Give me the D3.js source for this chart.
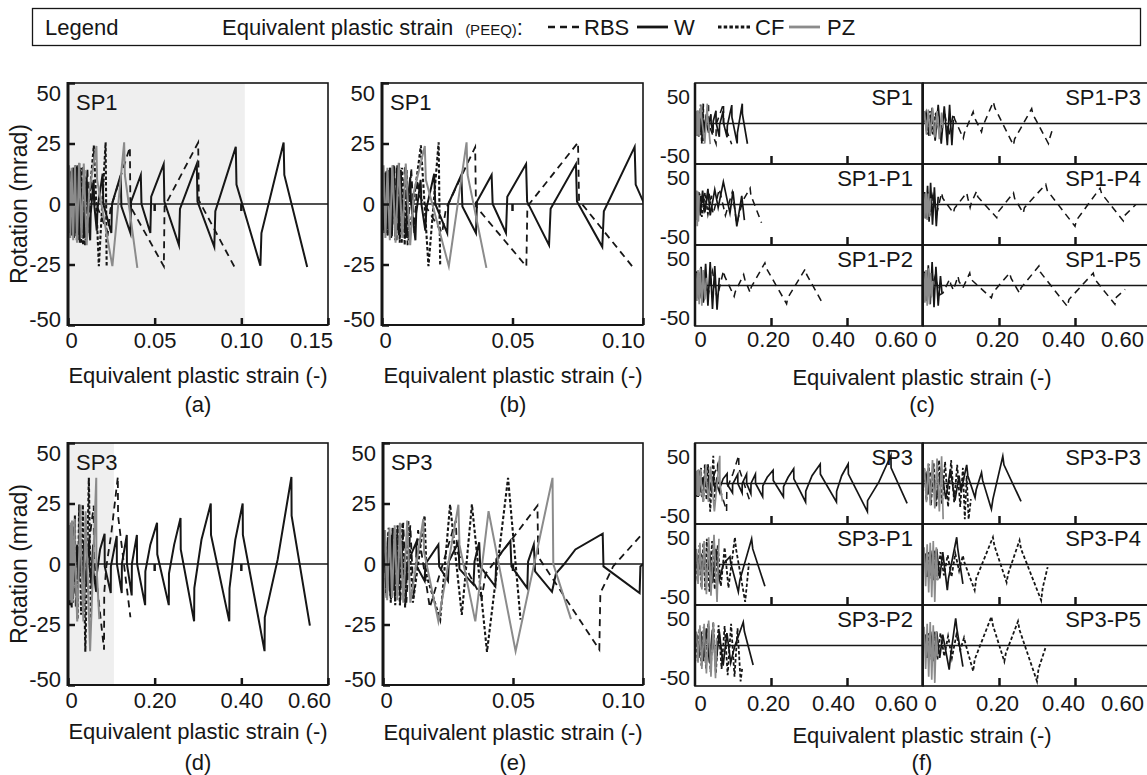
<!DOCTYPE html>
<html><head><meta charset="utf-8">
<script src="https://cdn.jsdelivr.net/npm/d3@7"></script>
<style>
body{margin:0;background:#fff}
svg{display:block;font-family:"Liberation Sans",Arial,sans-serif}
</style></head><body>
<svg id="fig" width="1147" height="775"></svg>
<script>
// ---------- data: [equivalent plastic strain, rotation (mrad)] ----------
// SP1
const sp1_W = [[0,0],[0.0004,12],[0.0008,-11],[0.0012,13],[0.0017,-12],[0.0022,14],[0.0027,-12],[0.0032,15],[0.0038,-12],[0.0044,16],[0.005,-12],[0.0057,15],[0.0064,-13],[0.0072,14],[0.0075,3],[0.0092,-14],[0.0095,-3],[0.0108,11],[0.0111,1],[0.0128,-15],[0.0131,-4],[0.0148,10],[0.0151,0],[0.0166,-11],[0.017,-2],[0.02,12.5],[0.0204,0],[0.025,-12],[0.0254,0],[0.0304,12],[0.0308,-1],[0.036,-12],[0.0364,1],[0.042,12],[0.0424,0],[0.0475,-12],[0.048,3],[0.0552,16.5],[0.0556,1],[0.064,-17],[0.0646,-2],[0.0743,16.5],[0.0747,1],[0.0844,-17.7],[0.085,-3],[0.0968,23.6],[0.0972,8],[0.111,-25.5],[0.1116,-12],[0.1244,25.4],[0.1248,12],[0.138,-26]];
const sp1_RBS = [[0,0],[0.0005,13],[0.001,-12],[0.0016,14],[0.0022,-13],[0.003,15],[0.0038,-14],[0.0047,16],[0.0056,-15],[0.0066,17],[0.0076,-16],[0.0088,16],[0.0098,-17],[0.0112,15],[0.0124,-12],[0.0135,10],[0.0145,3],[0.023,-12],[0.0245,-2],[0.0357,23.5],[0.036,-1],[0.0553,-25.8],[0.0557,-1],[0.0751,25.4],[0.0755,1.5],[0.0965,-26.6]];
const sp1_CF = [[0,0],[0.0004,12],[0.0009,-12],[0.0015,13],[0.0021,-13],[0.0028,14],[0.0035,-14],[0.0043,15],[0.0051,-15],[0.0059,16],[0.0068,-16],[0.0077,15],[0.0087,-17],[0.0094,14],[0.0102,-15],[0.0149,24.2],[0.0178,-25.7],[0.0217,25.5],[0.0223,-25.7]];
const sp1_PZ = [[0,0],[0.0006,16],[0.0013,-14],[0.0021,15],[0.003,-15],[0.004,16],[0.0052,-16],[0.0064,17],[0.0078,-14],[0.0091,16.7],[0.0108,-17],[0.0122,5],[0.0164,24],[0.0168,10],[0.0256,-25.7],[0.0324,25.5],[0.0328,12],[0.040,-26.4]];
// SP1-P1 .. SP1-P5
const sp1p1_W = [[0,0],[0.003,14],[0.006,-12],[0.01,16],[0.014,-14],[0.02,18],[0.026,-10],[0.034,20],[0.04,-14],[0.052,19],[0.061,-4],[0.0746,29],[0.092,-11],[0.1,17],[0.11,-28],[0.123,11],[0.13,-20]];
const sp1p1_RBS = [[0,0],[0.004,12],[0.009,-10],[0.016,14],[0.024,-8],[0.036,16],[0.048,-12],[0.064,20],[0.08,-14],[0.098,16],[0.11,-25],[0.125,4],[0.145,21],[0.147,12],[0.175,-23.5]];
const sp1p1_CF = [[0,0],[0.003,10],[0.007,-13],[0.012,14],[0.018,-16],[0.026,15],[0.034,-12],[0.044,12]];
const sp1p1_PZ = [[0,0],[0.0015,16],[0.003,-20],[0.0045,18],[0.006,-28],[0.0075,17],[0.009,-22],[0.011,12]];
const sp1p2_W = [[0,0],[0.005,18],[0.01,-18],[0.016,24],[0.022,-22],[0.028,28],[0.034,-26],[0.04,30],[0.046,-30],[0.052,25],[0.058,-31],[0.064,10]];
const sp1p2_RBS = [[0,0],[0.006,12],[0.014,-12],[0.024,15],[0.034,-14],[0.046,18],[0.058,-16],[0.075,19],[0.078,12],[0.103,-14],[0.106,-8],[0.128,14],[0.131,8],[0.145,-9],[0.148,-2],[0.184,29],[0.188,22],[0.241,-23.5],[0.244,-16],[0.29,21],[0.294,14],[0.338,-25]];
const sp1p2_CF = [[0,0],[0.004,14],[0.009,-16],[0.015,18],[0.022,-20],[0.03,16]];
const sp1p2_PZ = [[0,0],[0.002,16],[0.005,-20],[0.008,20],[0.011,-24],[0.014,22],[0.018,-26],[0.022,20],[0.026,-18],[0.03,10]];
const sp1p3_W = [[0,0],[0.008,14],[0.016,-16],[0.024,20],[0.032,-22],[0.04,24],[0.048,-26],[0.056,22],[0.064,-28],[0.07,24],[0.076,-28],[0.08,5]];
const sp1p3_RBS = [[0,0],[0.01,10],[0.02,-12],[0.032,14],[0.044,-14],[0.056,16],[0.068,-16],[0.08,12.8],[0.083,6],[0.106,-19],[0.109,-12],[0.132,15],[0.135,8],[0.154,-10.7],[0.157,-4],[0.185,27.8],[0.189,20],[0.238,-27.8],[0.241,-20],[0.286,19],[0.289,12],[0.33,-25.7],[0.334,-18],[0.343,-4]];
const sp1p3_CF = [[0,0],[0.005,12],[0.011,-14],[0.018,16],[0.026,-14],[0.034,14]];
const sp1p3_PZ = [[0,0],[0.004,16],[0.009,-14],[0.014,18],[0.019,-16],[0.025,20],[0.031,-18],[0.037,16],[0.043,-20],[0.049,14],[0.053,-6]];
const sp1p4_W = [[0,0],[0.004,16],[0.008,-18],[0.012,24],[0.016,-22],[0.02,28],[0.025,-26],[0.03,22],[0.035,-28],[0.04,10]];
const sp1p4_RBS = [[0,0],[0.008,10],[0.016,-10],[0.026,12],[0.036,-12],[0.049,15],[0.052,8],[0.08,-11],[0.083,-5],[0.115,15],[0.118,8],[0.124,-4],[0.127,2],[0.141,17],[0.144,10],[0.194,-17],[0.197,-10],[0.238,15],[0.241,8],[0.264,-11],[0.267,-4],[0.323,26],[0.327,18],[0.4,-28],[0.404,-20],[0.466,21],[0.47,14],[0.527,-21],[0.531,-14],[0.56,0]];
const sp1p4_CF = [[0,0],[0.003,12],[0.007,-14],[0.012,16],[0.018,-14],[0.024,12]];
const sp1p4_PZ = [[0,0],[0.002,14],[0.005,-18],[0.008,16],[0.011,-20],[0.014,14],[0.017,-16],[0.02,8]];
const sp1p5_W = [[0,0],[0.004,18],[0.009,-20],[0.014,26],[0.019,-24],[0.024,30],[0.029,-28],[0.034,24],[0.04,-26],[0.046,12],[0.05,-10]];
const sp1p5_RBS = [[0,0],[0.01,10],[0.02,-10],[0.032,12],[0.044,-12],[0.052,-10],[0.07,8],[0.073,2],[0.08,-6],[0.092,12],[0.095,5],[0.105,-3],[0.123,16],[0.126,8],[0.18,-16],[0.184,-9],[0.228,16],[0.232,9],[0.254,-10],[0.258,-3],[0.305,25],[0.309,17],[0.38,-27],[0.384,-18],[0.448,16],[0.452,8],[0.505,-24],[0.509,-15],[0.532,-5]];
const sp1p5_CF = [[0,0],[0.003,12],[0.008,-14],[0.013,14],[0.019,-16],[0.025,12]];
const sp1p5_PZ = [[0,0],[0.002,16],[0.005,-22],[0.008,20],[0.011,-26],[0.014,22],[0.017,-24],[0.02,16],[0.023,-14],[0.026,6]];
// SP3
const sp3_W = [[0,0],[0.0006,10],[0.0012,-10],[0.0019,11],[0.0026,-11],[0.0034,12],[0.0042,-11],[0.005,11],[0.0058,-10],[0.0072,9],[0.0075,-2],[0.009,-8],[0.0093,0],[0.0128,9],[0.013,-1],[0.016,-7],[0.0163,0],[0.0213,8],[0.0216,-1],[0.025,-7],[0.0253,1],[0.029,9],[0.0294,-2],[0.0348,-8.5],[0.0352,1],[0.037,9],[0.0374,-1],[0.0432,-9.3],[0.0436,2],[0.049,9.6],[0.0494,-1],[0.0555,-10],[0.0558,1],[0.058,8],[0.0585,-3],[0.065,-11.5],[0.0665,-4],[0.0697,0],[0.074,6],[0.0845,12.5],[0.0848,-1],[0.0987,-12],[0.099,-1],[0.1125,11.6],[0.1128,0],[0.124,-12],[0.1243,0],[0.1357,12],[0.136,0],[0.147,-13],[0.1474,0],[0.159,12],[0.1594,0],[0.178,-17],[0.1785,-3],[0.19,8],[0.2055,17],[0.206,4],[0.2326,-17],[0.233,-4],[0.245,8],[0.2597,19],[0.2602,6],[0.291,-23.7],[0.2915,-10],[0.308,10],[0.3295,25],[0.33,12],[0.3722,-23.7],[0.3727,-10],[0.386,10],[0.4031,25],[0.4036,12],[0.4536,-36],[0.4541,-22],[0.484,2],[0.5156,36],[0.516,20],[0.5582,-25.5]];
const sp3_RBS = [[0,0],[0.0006,12],[0.0012,-12],[0.002,13],[0.0028,-14],[0.0037,15],[0.0046,-15],[0.0056,16],[0.0066,-17],[0.0078,17],[0.009,-16],[0.0105,16],[0.0118,-14],[0.0135,14],[0.018,-18],[0.028,18],[0.0285,5],[0.038,-14],[0.0395,-4],[0.0594,24.1],[0.0597,3],[0.0832,-35.4],[0.0836,-12],[0.0885,-1],[0.1,12.8],[0.115,36],[0.1155,20],[0.144,-22]];
const sp3_CF = [[0,0],[0.0007,13],[0.0014,-14],[0.0022,15],[0.003,-16],[0.0038,15],[0.0047,-17],[0.0056,16],[0.0065,-17],[0.0075,17],[0.0085,-18],[0.0097,18],[0.0115,-16],[0.016,20],[0.0168,-5],[0.022,-23],[0.0258,24.6],[0.0303,-21],[0.0342,24.6],[0.04,-36.3],[0.0481,35.6],[0.0529,-23]];
const sp3_PZ = [[0,0],[0.0008,14],[0.0016,-15],[0.0025,15],[0.0035,-14],[0.0045,16],[0.0055,-15],[0.0065,17],[0.0078,-16],[0.0093,18],[0.0105,-16],[0.0155,18.6],[0.0158,5],[0.0213,-23.7],[0.029,24.5],[0.0294,8],[0.0355,-23.7],[0.0406,21.8],[0.051,-36],[0.0652,35.6],[0.0655,0],[0.0723,-22.8]];
// SP3-P1 .. SP3-P5
const sp3p1_W = [[0,0],[0.004,14],[0.008,-14],[0.013,18],[0.018,-18],[0.024,20],[0.03,-22],[0.038,18],[0.046,-24],[0.055,20],[0.064,-20],[0.075,1],[0.092,10],[0.094,2],[0.114,-35],[0.118,-20],[0.149,33],[0.152,20],[0.184,-28]];
const sp3p1_RBS = [[0,0],[0.005,12],[0.01,-14],[0.016,14],[0.022,-12]];
const sp3p1_CF = [[0,0],[0.003,18],[0.007,-22],[0.012,25],[0.017,-30],[0.022,28],[0.027,-33],[0.031,33],[0.038,-35],[0.045,30],[0.052,-32],[0.06,25],[0.068,-28],[0.078,22],[0.088,-30],[0.105,35],[0.108,20],[0.132,-48],[0.142,2]];
const sp3p1_PZ = [[0,0],[0.004,20],[0.008,-25],[0.013,28],[0.018,-32],[0.024,30],[0.03,-38],[0.036,35],[0.042,-40],[0.05,38],[0.058,-48],[0.063,33]];
const sp3p2_W = [[0,0],[0.005,14],[0.01,-16],[0.016,18],[0.022,-20],[0.03,22],[0.038,-22],[0.046,20],[0.055,-24],[0.064,18],[0.074,-26],[0.084,16],[0.094,-22],[0.104,-2],[0.127,30],[0.13,18],[0.153,-25]];
const sp3p2_RBS = [[0,0],[0.005,12],[0.01,-14],[0.016,14],[0.022,-12]];
const sp3p2_CF = [[0,0],[0.003,16],[0.007,-20],[0.012,22],[0.017,-26],[0.023,24],[0.029,-30],[0.035,28],[0.041,-34],[0.048,30],[0.055,-36],[0.062,26],[0.07,-30],[0.078,25],[0.086,-38],[0.095,28],[0.104,-40],[0.112,22],[0.12,-46],[0.124,-30]];
const sp3p2_PZ = [[0,0],[0.004,18],[0.008,-22],[0.013,26],[0.018,-30],[0.024,28],[0.03,-36],[0.036,32],[0.042,-40],[0.048,30],[0.054,-42],[0.057,10]];
const sp3p3_W = [[0,0],[0.008,12],[0.016,-14],[0.026,16],[0.036,-18],[0.048,20],[0.06,-20],[0.072,18],[0.084,-22],[0.095,10],[0.1,-10],[0.115,24],[0.118,10],[0.137,-18],[0.14,-8],[0.154,14],[0.157,4],[0.18,-33],[0.184,-20],[0.21,35],[0.213,24],[0.258,-23]];
const sp3p3_RBS = [[0,0],[0.006,12],[0.012,-14],[0.019,14],[0.026,-12]];
const sp3p3_CF = [[0,0],[0.004,18],[0.009,-22],[0.015,25],[0.021,-28],[0.028,26],[0.035,-30],[0.042,30],[0.05,-26],[0.058,28],[0.066,-30],[0.074,30],[0.082,-24],[0.09,24],[0.098,-30],[0.105,20],[0.11,-46],[0.115,10],[0.12,-46],[0.126,-20]];
const sp3p3_PZ = [[0,0],[0.004,20],[0.009,-24],[0.014,26],[0.019,-28],[0.025,30],[0.031,-32],[0.037,32],[0.043,-36],[0.049,35],[0.053,-46]];
const sp3p4_W = [[0,0],[0.006,14],[0.012,-16],[0.02,18],[0.028,-20],[0.036,20],[0.044,-18],[0.052,16],[0.064,-33],[0.067,-18],[0.0887,35],[0.091,22],[0.105,-25]];
const sp3p4_RBS = [[0,0],[0.006,12],[0.012,-14],[0.019,14],[0.026,-12]];
const sp3p4_CF = [[0,0],[0.005,14],[0.01,-16],[0.016,16],[0.022,-18],[0.03,18],[0.038,-20],[0.046,16],[0.055,-14],[0.065,12],[0.075,-16],[0.085,14],[0.095,-8],[0.105,11.6],[0.108,4],[0.136,-33],[0.14,-18],[0.184,35],[0.188,24],[0.22,-23],[0.224,-12],[0.254,31],[0.258,20],[0.311,-46],[0.315,-30],[0.328,-3.4]];
const sp3p4_PZ = [[0,0],[0.003,22],[0.007,-28],[0.011,26],[0.015,-36],[0.019,28],[0.023,-42],[0.027,30],[0.031,-48],[0.035,22],[0.038,-20]];
const sp3p5_W = [[0,0],[0.006,14],[0.012,-16],[0.02,18],[0.028,-20],[0.036,18],[0.044,-16],[0.052,14],[0.069,-31],[0.072,-16],[0.086,35],[0.089,22],[0.105,-27]];
const sp3p5_RBS = [[0,0],[0.006,12],[0.012,-14],[0.019,14],[0.026,-12]];
const sp3p5_CF = [[0,0],[0.005,14],[0.01,-16],[0.016,16],[0.022,-18],[0.03,18],[0.038,-18],[0.046,16],[0.056,-14],[0.066,12],[0.076,-16],[0.088,14],[0.098,-6],[0.108,10],[0.112,2],[0.132,-33],[0.136,-18],[0.18,37],[0.184,26],[0.214,-20.5],[0.218,-10],[0.25,31],[0.254,20],[0.3,-46],[0.304,-30],[0.322,-3.4]];
const sp3p5_PZ = [[0,0],[0.003,24],[0.007,-30],[0.011,28],[0.015,-40],[0.019,30],[0.023,-44],[0.027,26],[0.031,-48],[0.035,18],[0.038,-14]];

// axis ticks and labels
const rotTicks = [-50, -25, 0, 25, 50];
const rotTicksSmall = [-50, 50];
const strainTicksA = [0, 0.05, 0.10, 0.15];
const strainTicksB = [0, 0.05, 0.10];
const strainTicksD = [0, 0.20, 0.40, 0.60];
const strainTicksGrid = [0, 0.20, 0.40, 0.60];
const seriesKeys = ['RBS', 'W', 'CF', 'PZ'];

// ---------- drawing ----------
const INK = '#161616';
const FAM = '"Liberation Sans", Arial, sans-serif';
const FS = 22;
const STYLE = {
  W:   {color: INK, width: 2.0, dash: null},
  RBS: {color: INK, width: 1.8, dash: '7,5'},
  CF:  {color: INK, width: 2.1, dash: '3.5,2.2'},
  PZ:  {color: '#8b8b8b', width: 2.0, dash: null}
};
const DRAW_ORDER = ['W', 'RBS', 'CF', 'PZ'];

const svg = d3.select('#fig');
const fmtStrain = d => d === 0 ? '0' : d.toFixed(2);

function styleAxis(sel, size) {
  sel.attr('font-family', FAM).attr('font-size', size || FS);
  sel.select('.domain').remove();
  sel.selectAll('.tick line').attr('stroke', INK).attr('stroke-width', 2.5);
  sel.selectAll('.tick text').attr('fill', INK);
}

function drawSeries(g, data, x, y, clipId, k) {
  const line = d3.line().x(d => x(d[0])).y(d => y(d[1]));
  DRAW_ORDER.forEach(key => {
    if (!data[key]) return;
    const s = STYLE[key];
    g.append('path')
      .attr('d', line(data[key]))
      .attr('fill', 'none')
      .attr('stroke', s.color)
      .attr('stroke-width', s.width * k)
      .attr('stroke-dasharray', s.dash)
      .attr('stroke-linejoin', 'miter')
      .attr('stroke-miterlimit', 6)
      .attr('clip-path', `url(#${clipId})`);
  });
}

function bigPanel(p) {
  const x = d3.scaleLinear().domain([0, p.xMax]).range([p.left, p.right]);
  const y = d3.scaleLinear().domain([-50, 50]).range([p.bottom, p.top]);
  const g = svg.append('g');
  const cid = 'clip-' + p.id;
  svg.append('clipPath').attr('id', cid).append('rect')
    .attr('x', p.left).attr('y', p.top).attr('width', p.right - p.left).attr('height', p.bottom - p.top);
  if (p.shade) {
    g.append('rect').attr('x', p.left).attr('y', p.top)
      .attr('width', x(p.shade) - p.left).attr('height', p.bottom - p.top).attr('fill', '#efefef');
  }
  g.append('line').attr('x1', p.left).attr('x2', p.right).attr('y1', y(0)).attr('y2', y(0))
    .attr('stroke', INK).attr('stroke-width', 1.6);
  g.selectAll(null).data(p.zeroTicks).join('line')
    .attr('x1', d => x(d)).attr('x2', d => x(d)).attr('y1', y(0)).attr('y2', y(0) + 7)
    .attr('stroke', INK).attr('stroke-width', 2.5);
  drawSeries(g, p.data, x, y, cid, 1);
  g.append('rect').attr('x', p.left).attr('y', p.top).attr('width', p.right - p.left).attr('height', p.bottom - p.top)
    .attr('fill', 'none').attr('stroke', INK).attr('stroke-width', 1.6);
  g.append('line').attr('x1', p.left).attr('x2', p.left).attr('y1', p.top - 1).attr('y2', p.bottom + 1)
    .attr('stroke', INK).attr('stroke-width', 3);
  g.append('line').attr('x1', p.left).attr('x2', p.right).attr('y1', p.bottom).attr('y2', p.bottom)
    .attr('stroke', INK).attr('stroke-width', 2.2);

  const last = p.ticks[p.ticks.length - 1];
  const xa = g.append('g').attr('transform', `translate(0,${p.bottom})`)
    .call(d3.axisBottom(x).tickValues(p.ticks).tickFormat(fmtStrain).tickSize(-7).tickSizeOuter(0).tickPadding(7));
  styleAxis(xa);
  xa.selectAll('.tick text').attr('dx', d => d === 0 ? 3 : (d === last ? p.lastShift : 0));

  const ya = g.append('g').attr('transform', `translate(${p.left},0)`)
    .call(d3.axisLeft(y).tickValues(rotTicks).tickFormat(d => String(d)).tickSize(-7).tickSizeOuter(0).tickPadding(7));
  styleAxis(ya);
  ya.selectAll('.tick text').attr('y', d => d === 50 ? 10 : (d === -50 ? -6 : 0));

  g.append('text').attr('x', p.left + 8).attr('y', p.top + 27).attr('font-size', FS).attr('fill', INK).text(p.name);
}

function gridPanel(p) {
  const cols = [{l: 695, r: 923}, {l: 923, r: 1151}];
  const rowH = 81;
  const g = svg.append('g');
  p.cells.forEach((row, i) => row.forEach((cell, j) => {
    const c = cols[j];
    const t = p.top + i * rowH, b = t + rowH;
    const x = d3.scaleLinear().domain([0, 0.6]).range([c.l, c.r]);
    const y = d3.scaleLinear().domain([-52, 52]).range([b, t]);
    const cid = `clip-${p.id}-${i}-${j}`;
    svg.append('clipPath').attr('id', cid).append('rect').attr('x', c.l).attr('y', t).attr('width', c.r - c.l).attr('height', rowH);
    g.append('line').attr('x1', c.l).attr('x2', c.r).attr('y1', y(0)).attr('y2', y(0)).attr('stroke', INK).attr('stroke-width', 1.6);
    drawSeries(g, cell.data, x, y, cid, 0.85);
    g.append('rect').attr('x', c.l).attr('y', t).attr('width', c.r - c.l).attr('height', rowH)
      .attr('fill', 'none').attr('stroke', INK).attr('stroke-width', 1.6);
    const lastRow = i === p.cells.length - 1;
    const xa = g.append('g').attr('transform', `translate(0,${b})`)
      .call(d3.axisBottom(x).tickValues(strainTicksGrid.filter(v => v > 0 && v < 0.6)).tickSize(-8).tickSizeOuter(0).tickFormat(''));
    styleAxis(xa);
    if (lastRow) {
      const shifts = j === 0 ? [5, -3, -14, -27] : [7, -2, -12, -29];
      const la = g.append('g').attr('transform', `translate(0,${b})`)
        .call(d3.axisBottom(x).tickValues(strainTicksGrid).tickFormat(fmtStrain).tickSize(0).tickSizeOuter(0).tickPadding(p.labelPad));
      styleAxis(la);
      la.selectAll('.tick text').attr('dx', (d, k) => shifts[k]);
    }
    if (j === 0) {
      const ya = g.append('g').attr('transform', `translate(${c.l},0)`)
        .call(d3.axisLeft(y).tickValues(rotTicksSmall).tickFormat(d => String(d)).tickSize(0).tickSizeOuter(0).tickPadding(5));
      styleAxis(ya, 21);
      ya.selectAll('.tick text').attr('y', d => d === 50 ? 12.5 : -7);
    }
    g.append('text').attr('x', c.r - 10).attr('y', t + 22).attr('text-anchor', 'end')
      .attr('font-size', FS).attr('fill', INK).text(cell.name);
  }));
  g.append('line').attr('x1', 695).attr('x2', 695).attr('y1', p.top).attr('y2', p.top + 3 * rowH).attr('stroke', INK).attr('stroke-width', 2.5);
  g.append('line').attr('x1', 922.5).attr('x2', 922.5).attr('y1', p.top).attr('y2', p.top + 3 * rowH).attr('stroke', INK).attr('stroke-width', 2.5);
}

function caption(x, y, str) {
  svg.append('text').attr('x', x).attr('y', y).attr('text-anchor', 'middle')
    .attr('font-size', FS).attr('fill', INK).text(str);
}
function rotTitle(cy) {
  svg.append('text').attr('transform', `translate(27,${cy}) rotate(-90)`).attr('text-anchor', 'middle')
    .attr('font-size', 23).attr('fill', INK).text('Rotation (mrad)');
}

const SP1 = {W: sp1_W, RBS: sp1_RBS, CF: sp1_CF, PZ: sp1_PZ};
const SP3 = {W: sp3_W, RBS: sp3_RBS, CF: sp3_CF, PZ: sp3_PZ};

// (a) and (b)
bigPanel({id: 'a', left: 68, right: 328, top: 83, bottom: 325, xMax: 0.15, ticks: strainTicksA, zeroTicks: [0.05, 0.10], shade: 0.102, lastShift: -17, name: 'SP1', data: SP1});
bigPanel({id: 'b', left: 382, right: 643, top: 83, bottom: 325, xMax: 0.10, ticks: strainTicksB, zeroTicks: [0.05], lastShift: -20, name: 'SP1', data: SP1});
// (d) and (e)
bigPanel({id: 'd', left: 68, right: 328, top: 443, bottom: 685, xMax: 0.60, ticks: strainTicksD, zeroTicks: [0.20, 0.40], shade: 0.106, lastShift: -19, name: 'SP3', data: SP3});
bigPanel({id: 'e', left: 383, right: 643, top: 443, bottom: 685, xMax: 0.10, ticks: strainTicksB, zeroTicks: [0.05], lastShift: -20, name: 'SP3', data: SP3});

// (c) and (f)
gridPanel({id: 'c', top: 83, labelPad: 5, cells: [
  [{name: 'SP1', data: SP1}, {name: 'SP1-P3', data: {W: sp1p3_W, RBS: sp1p3_RBS, CF: sp1p3_CF, PZ: sp1p3_PZ}}],
  [{name: 'SP1-P1', data: {W: sp1p1_W, RBS: sp1p1_RBS, CF: sp1p1_CF, PZ: sp1p1_PZ}}, {name: 'SP1-P4', data: {W: sp1p4_W, RBS: sp1p4_RBS, CF: sp1p4_CF, PZ: sp1p4_PZ}}],
  [{name: 'SP1-P2', data: {W: sp1p2_W, RBS: sp1p2_RBS, CF: sp1p2_CF, PZ: sp1p2_PZ}}, {name: 'SP1-P5', data: {W: sp1p5_W, RBS: sp1p5_RBS, CF: sp1p5_CF, PZ: sp1p5_PZ}}]
]});
gridPanel({id: 'f', top: 443, labelPad: 9, cells: [
  [{name: 'SP3', data: SP3}, {name: 'SP3-P3', data: {W: sp3p3_W, RBS: sp3p3_RBS, CF: sp3p3_CF, PZ: sp3p3_PZ}}],
  [{name: 'SP3-P1', data: {W: sp3p1_W, RBS: sp3p1_RBS, CF: sp3p1_CF, PZ: sp3p1_PZ}}, {name: 'SP3-P4', data: {W: sp3p4_W, RBS: sp3p4_RBS, CF: sp3p4_CF, PZ: sp3p4_PZ}}],
  [{name: 'SP3-P2', data: {W: sp3p2_W, RBS: sp3p2_RBS, CF: sp3p2_CF, PZ: sp3p2_PZ}}, {name: 'SP3-P5', data: {W: sp3p5_W, RBS: sp3p5_RBS, CF: sp3p5_CF, PZ: sp3p5_PZ}}]
]});

// axis titles and panel letters
const xTitle = 'Equivalent plastic strain (-)';
caption(198, 383, xTitle); caption(513, 383, xTitle); caption(922, 385, xTitle);
caption(198, 739, xTitle); caption(513, 740, xTitle); caption(922, 743, xTitle);
caption(198, 412, '(a)'); caption(513, 412, '(b)'); caption(922, 412, '(c)');
caption(198, 770, '(d)'); caption(513, 770, '(e)'); caption(922, 770, '(f)');
rotTitle(204); rotTitle(564);

// legend
const lg = svg.append('g');
lg.append('rect').attr('x', 32.5).attr('y', 8.5).attr('width', 1108).attr('height', 37)
  .attr('fill', 'none').attr('stroke', INK).attr('stroke-width', 1.3);
lg.append('text').attr('x', 45).attr('y', 35).attr('font-size', FS).attr('fill', INK).text('Legend');
const lt = lg.append('text').attr('x', 222).attr('y', 35).attr('font-size', FS).attr('fill', INK);
lt.append('tspan').text('Equivalent plastic strain');
lt.append('tspan').attr('dx', 12).attr('font-size', 15).text('(PEEQ)');
lt.append('tspan').text(':');
const legendItems = [
  {key: 'RBS', x0: 548, x1: 580, tx: 584},
  {key: 'W', x0: 637, x1: 668, tx: 674},
  {key: 'CF', x0: 718, x1: 750, tx: 755},
  {key: 'PZ', x0: 789, x1: 820, tx: 827}
];
legendItems.forEach(it => {
  const s = STYLE[it.key];
  lg.append('line').attr('x1', it.x0).attr('x2', it.x1).attr('y1', 27).attr('y2', 27)
    .attr('stroke', s.color).attr('stroke-width', s.width + 0.8).attr('stroke-dasharray', s.dash);
  lg.append('text').attr('x', it.tx).attr('y', 35).attr('font-size', FS).attr('fill', INK).text(it.key);
});
</script></body></html>
